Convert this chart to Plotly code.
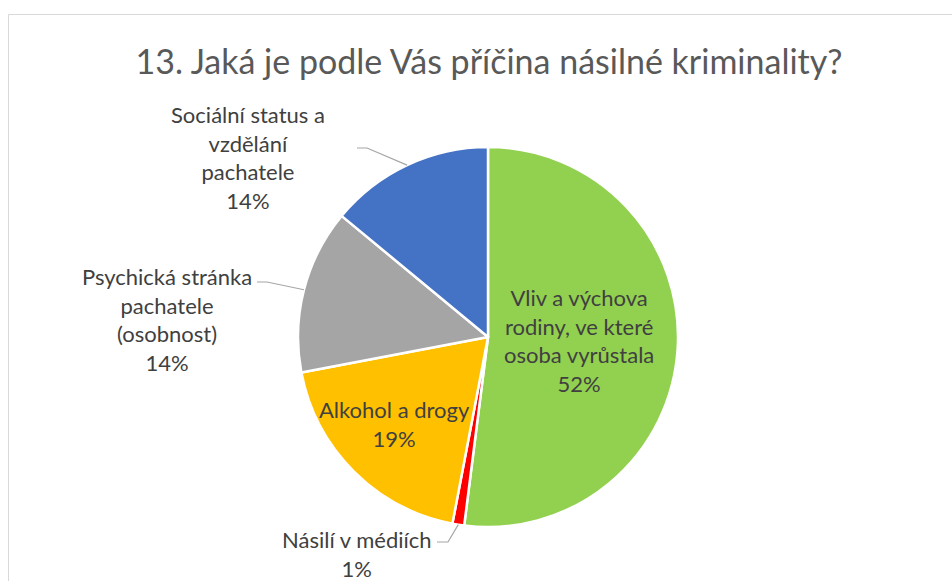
import math
import plotly.graph_objects as go

title = '13. Jaká je podle Vás příčina násilné kriminality?'
labels = ['Vliv a výchova<br>rodiny, ve které<br>osoba vyrůstala',
          'Násilí v médiích',
          'Alkohol a drogy',
          'Psychická stránka<br>pachatele<br>(osobnost)',
          'Sociální status a<br>vzdělání<br>pachatele']
values = [52, 1, 19, 14, 14]
colors = ['#92D050', '#FF0000', '#FFC000', '#A5A5A5', '#4472C4']

W, H = 952, 581
cx, cy, r = 488, 337, 190
font = 'Lato'
txt_col = '#404040'

fig = go.Figure()
fig.add_trace(go.Pie(
    labels=labels, values=values, sort=False, direction='clockwise', rotation=0,
    marker=dict(colors=colors, line=dict(color='white', width=2.5)),
    textinfo='none', hoverinfo='label+percent', showlegend=False,
    domain=dict(x=[(cx - r) / W, (cx + r) / W], y=[1 - (cy + r) / H, 1 - (cy - r) / H]),
))

# label placement (pixel centres) for each slice
label_pos = [(579, 340), (357, 554), (394, 424), (167, 320), (248, 157)]
total = sum(values)
cum = 0
annotations = []
shapes = []
for i, (lab, v) in enumerate(zip(labels, values)):
    pct = round(100 * v / total)
    x, y = label_pos[i]
    annotations.append(dict(
        x=x / W, y=1 - y / H, xref='paper', yref='paper', showarrow=False,
        text=f'{lab}<br>{pct}%', font=dict(family=font, size=22, color=txt_col),
        align='center', xanchor='center', yanchor='middle'))
    mid = 2 * math.pi * (cum + v / 2) / total
    cum += v
    ex, ey = cx + r * math.sin(mid), cy - r * math.cos(mid)
    # leader lines for the outside labels
    if i == 4:
        pts = [(357, 148), (367, 148), (ex, ey)]
    elif i == 3:
        pts = [(257, 282), (267, 282), (ex, ey)]
    elif i == 1:
        pts = [(437, 542), (448, 542), (ex, ey)]
    else:
        pts = None
    if pts:
        path = 'M ' + ' L '.join(f'{px / W},{1 - py / H}' for px, py in pts)
        shapes.append(dict(type='path', xref='paper', yref='paper', path=path,
                           line=dict(color='#A6A6A6', width=1.2)))

# chart area border
shapes.append(dict(type='rect', xref='paper', yref='paper',
                   x0=8.5 / W, x1=1.05, y0=-0.05, y1=1 - 14.5 / H,
                   line=dict(color='#D9D9D9', width=1)))

fig.update_layout(
    width=W, height=H,
    margin=dict(l=0, r=0, t=0, b=0),
    paper_bgcolor='white', plot_bgcolor='white',
    title=dict(text=title, x=489 / W, xanchor='center', y=1 - 62 / H, yanchor='middle',
               font=dict(family=font, size=34, color='#595959')),
    annotations=annotations, shapes=shapes,
)

fig.write_html('out.html', config={'displayModeBar': False},
               post_script="document.body.style.margin='0';")
